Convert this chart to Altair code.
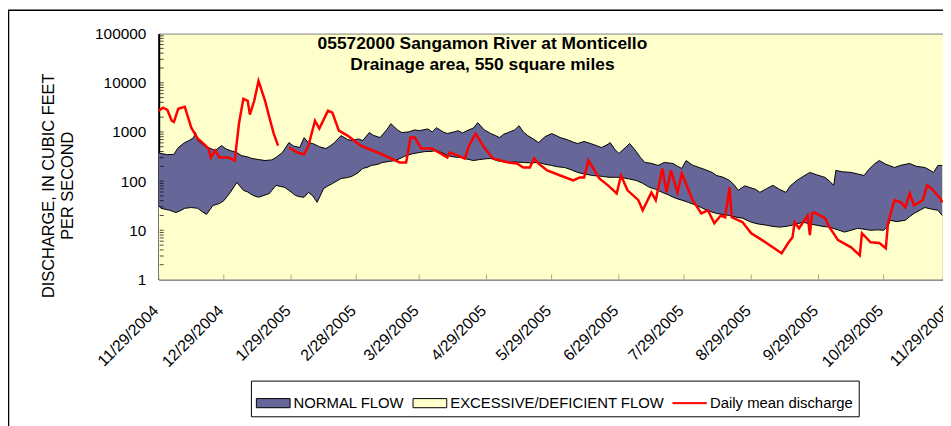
import altair as alt
import pandas as pd

START = "2004-11-29"

# ---- data (day offset from 11/29/2004, discharge cfs) ----
upper_day = [0, 1, 4, 7, 9, 12, 14, 16, 17, 18, 21, 24, 26, 29, 31, 33, 36, 38, 41, 43, 46, 49, 52, 54, 57,
             60, 62, 65, 67, 69, 71, 74, 77, 79, 81, 84, 87, 89, 92, 94, 97, 99, 102, 105, 107, 110, 112,
             115, 118, 120, 124, 126, 128, 131, 133, 136, 138, 140, 142, 145, 147, 150, 153, 155, 157, 159,
             161, 164, 166, 168, 170, 173, 175, 178, 181, 183, 185, 188, 191, 193, 196, 199, 202, 204, 207,
             208, 210, 212, 215, 217, 220, 222, 224, 227, 230, 233, 237, 239, 241, 243, 246, 249, 252, 255,
             257, 260, 263, 265, 267, 270, 272, 275, 277, 280, 283, 286, 289, 291, 294, 297, 300, 303, 307,
             309, 311, 312, 315, 319, 322, 325, 327, 330, 332, 335, 339, 342, 346, 349, 353, 355, 357, 359, 361]
upper_val = [380, 364, 345, 350, 480, 607, 667, 760, 968, 667, 528, 459, 418, 528, 450, 418, 380, 331, 310, 288,
             275, 262, 270, 302, 381, 607, 520, 481, 767, 600, 580, 500, 459, 520, 607, 842, 700, 667, 720, 667,
             968, 850, 767, 1100, 1470, 1100, 968, 1000, 1100, 1060, 1150, 1000, 1220, 1000, 925, 1000, 1060,
             950, 1060, 1200, 1540, 1100, 925, 850, 767, 900, 968, 1100, 1340, 1000, 842, 700, 607, 800, 925,
             850, 767, 700, 620, 580, 640, 580, 520, 481, 560, 607, 450, 364, 480, 580, 400, 300, 239, 230, 208,
             240, 228, 200, 181, 262, 210, 189, 170, 150, 130, 120, 103, 85, 65, 80, 75, 68, 59, 70, 82, 68, 59,
             80, 103, 125, 150, 135, 119, 100, 82, 165, 155, 150, 140, 130, 170, 228, 262, 220, 189, 210, 228,
             200, 189, 170, 150, 208, 208]

lower_day = [0, 1, 5, 8, 10, 12, 15, 18, 20, 22, 25, 28, 30, 33, 36, 39, 41, 42, 44, 46, 49, 51, 54, 56, 58,
             61, 63, 65, 67, 69, 71, 73, 76, 78, 80, 82, 84, 87, 89, 92, 94, 96, 98, 101, 103, 106, 109, 112,
             114, 117, 120, 123, 125, 128, 131, 133, 136, 139, 142, 145, 148, 151, 153, 156, 158, 161, 164,
             168, 171, 175, 178, 181, 184, 187, 190, 193, 196, 200, 204, 208, 210, 213, 217, 220, 223, 226,
             229, 232, 235, 238, 241, 244, 247, 250, 253, 257, 260, 263, 266, 269, 271, 273, 276, 280, 283,
             286, 289, 292, 294, 297, 300, 303, 306, 309, 312, 316, 319, 322, 325, 328, 331, 334, 336, 337,
             340, 344, 346, 348, 351, 353, 356, 359, 361]
lower_val = [32, 28, 25.5, 23, 25, 28, 29, 28, 24, 21, 32, 35, 40, 59, 94, 65, 60, 56, 50, 47, 52, 56, 82, 78,
             75, 60, 51, 48, 47, 59, 50, 37, 71, 80, 89, 100, 113, 118, 125, 150, 181, 190, 208, 220, 239, 250,
             262, 300, 331, 360, 381, 400, 400, 418, 370, 331, 310, 302, 280, 262, 275, 285, 288, 260, 250,
             239, 245, 239, 235, 239, 220, 208, 195, 189, 170, 150, 140, 130, 125, 119, 120, 119, 110, 103,
             90, 75, 68, 59, 52, 45, 41, 37, 33, 29, 25, 22, 21, 20, 18.5, 17.6, 16, 14.6, 13.5, 12.7, 12,
             11.6, 12, 12.7, 13.5, 14.6, 13.5, 12.7, 12, 11.6, 10.5, 9.2, 10, 11, 10.5, 10, 10.2, 10, 12, 16,
             15, 16, 19, 22, 26, 29, 27, 25.5, 20]

flow_day = [0, 2, 4, 6, 7, 9, 12, 15, 18, 21, 23, 24, 26, 28, 32, 35, 37, 39, 41, 42, 44, 46, 49, 51, 53, 55,
            60, 64, 67, 69, 72, 74, 78, 80, 83, 87, 93, 102, 111, 114, 116, 118, 121, 126, 133, 134, 138, 141,
            143, 146, 150, 154, 161, 165, 168, 171, 173, 175, 179, 185, 191, 194, 196, 198, 203, 207, 211, 213,
            216, 221, 223, 227, 229, 232, 234, 236, 239, 241, 246, 250, 253, 256, 259, 261, 263, 264, 269, 273,
            278, 287, 290, 292, 293, 295, 299, 300, 301, 302, 307, 309, 313, 319, 323, 324, 328, 332, 335, 336,
            339, 342, 344, 346, 348, 352, 354, 356, 360, 361]
flow_val = [2700, 3100, 2800, 1690, 1600, 2960, 3250, 1220, 732, 560, 459, 302, 418, 302, 302, 262, 1500, 4720,
            4300, 2250, 4300, 10900, 4300, 1950, 925, 528,
            481, 381, 350, 528, 1690, 1170, 2700, 2460, 1060, 842, 528, 364, 239, 239, 767, 767, 459, 459, 302,
            381, 331, 288, 528, 925, 481, 288, 239, 228, 189, 189, 288, 228, 165, 130, 103, 119, 119, 262, 113,
            82, 56, 130, 65, 41, 25.5, 59, 41, 181, 59, 165, 59, 143, 41, 22, 25.5, 13.9, 20, 18.4, 75, 18.4,
            14.6, 8.7, 6.3, 3.4, 5.5, 7.2, 14.6, 11, 20, 8.0, 22, 23, 17.6, 11.6, 6.3, 4.5, 3.1, 8.7, 5.7, 5.5,
            4.3, 13.9, 41, 37, 29, 56, 32, 41, 82, 71, 45, 37]
flow_seg = [0] * 26 + [1] * (len(flow_day) - 26)

month_ticks = [(2004, 11, 29), (2004, 12, 29), (2005, 1, 29), (2005, 2, 28), (2005, 3, 29), (2005, 4, 29),
               (2005, 5, 29), (2005, 6, 29), (2005, 7, 29), (2005, 8, 29), (2005, 9, 29), (2005, 10, 29),
               (2005, 11, 29)]
y_ticks = [1, 10, 100, 1000, 10000, 100000]
minor_ticks = [m * 10 ** k for k in range(5) for m in range(2, 10)]

title_lines = ["05572000 Sangamon River at Monticello", "Drainage area, 550 square miles"]
y_title = ["DISCHARGE, IN CUBIC FEET", "\u00a0" * 13 + "PER SECOND"]
legend_items = ["NORMAL FLOW", "EXCESSIVE/DEFICIENT FLOW", "Daily mean discharge"]
legend_fill = ["#666699", "#FFFFCC", "#FF0000"]
legend_stroke = ["#000000", "#000000", "#FF0000"]
RECT = "M-1,-0.27H1V0.27H-1Z"
LINE = "M-1,-0.03H1V0.03H-1Z"
legend_shapes = [RECT, RECT, LINE]

FONT = "Liberation Sans"
W, H = 799, 248

start = pd.Timestamp(START)


def frame(days, vals, **extra):
    d = pd.DataFrame({"date": start + pd.to_timedelta(days, unit="D"), "value": vals})
    for k, v in extra.items():
        d[k] = v
    return d


upper_df = frame(upper_day, upper_val)
lower_df = frame(lower_day, lower_val)
flow_df = frame(flow_day, flow_val, seg=flow_seg)
month_df = pd.DataFrame({"date": [pd.Timestamp(year=y, month=m, day=d) for y, m, d in month_ticks]})
minor_df = pd.DataFrame({"value": minor_ticks + y_ticks[1:-1]})
legend_df = pd.DataFrame({"item": legend_items})
one_df = pd.DataFrame({"k": [0]})

x_dom = [alt.DateTime(year=2004, month=11, date=29), alt.DateTime(year=2005, month=11, date=29)]
x_scale = alt.Scale(domain=x_dom)
y_scale = alt.Scale(type="log", domain=[1, 100000], nice=False)

x_axis = alt.Axis(
    values=[alt.DateTime(year=y, month=m, date=d) for y, m, d in month_ticks],
    format="%-m/%-d/%Y", labelAngle=-45, labelAlign="right", labelBaseline="top",
    labelFont=FONT, labelFontSize=16, labelColor="black", labelPadding=23, labelOffset=-9,
    labelFlush=False, labelOverlap=False, labelBound=False, ticks=False, grid=False,
    domainColor="#808080", domainWidth=1.5, title=None)
y_axis = alt.Axis(
    values=y_ticks, format="d", labelFont=FONT, labelFontSize=15.5, labelColor="black", labelPadding=13,
    labelFlush=False, ticks=False, grid=False, domainColor="black", domainWidth=2,
    title=y_title, titleFont=FONT, titleFontSize=16.5, titleFontWeight="normal", titleColor="black",
    titleLineHeight=19, titleX=-111, titleY=153, titleBaseline="middle", titleAlign="center")

X = alt.X("date:T", scale=x_scale, axis=x_axis)
Y = alt.Y("value:Q", scale=y_scale, axis=y_axis, stack=None)

normal = alt.Chart(upper_df).mark_area(color="#666699").encode(x=X, y=Y, y2=alt.value(H))
cover = alt.Chart(lower_df).mark_area(color="#FFFFCC").encode(x=X, y=Y, y2=alt.value(H))
up_line = alt.Chart(upper_df).mark_line(color="black", strokeWidth=1).encode(x=X, y=Y)
lo_line = alt.Chart(lower_df).mark_line(color="black", strokeWidth=1).encode(x=X, y=Y)
flow = alt.Chart(flow_df).mark_line(color="#FF0000", strokeWidth=2.5).encode(x=X, y=Y, detail="seg:N")

minor = alt.Chart(minor_df).mark_tick(color="black", thickness=1, size=4).encode(y=Y, x=alt.value(3))
mticks = alt.Chart(month_df).mark_tick(color="#808080", thickness=1, size=5).encode(x=X, y=alt.value(H - 2.5))

title = alt.Chart(one_df).mark_text(
    align="center", baseline="top", font=FONT, fontSize=17.5, fontWeight="bold", lineHeight=21, color="black"
).encode(x=alt.value(326.5), y=alt.value(2), text=alt.value(title_lines))

border = alt.Chart(one_df).mark_rect(fill="transparent", stroke="black", strokeWidth=1.5).encode(
    x=alt.value(-151.5), x2=alt.value(W + 50), y=alt.value(-23.5), y2=alt.value(H + 300))

leg = alt.Legend(orient="none", legendX=93, legendY=350, direction="horizontal", title=None,
                 labelFont=FONT, labelFontSize=15, labelColor="black", labelLimit=400, labelOffset=3,
                 symbolSize=1156, symbolStrokeWidth=1, columnPadding=6, padding=5,
                 strokeColor="black", fillColor="white")
legend_layer = alt.Chart(legend_df).mark_point(filled=True, opacity=1, size=1156, clip=True).encode(
    x=alt.value(-3000), y=alt.value(-3000),
    fill=alt.Fill("item:N", scale=alt.Scale(domain=legend_items, range=legend_fill), legend=leg),
    stroke=alt.Stroke("item:N", scale=alt.Scale(domain=legend_items, range=legend_stroke), legend=leg),
    shape=alt.Shape("item:N", scale=alt.Scale(domain=legend_items, range=legend_shapes), legend=leg),
)

chart = alt.layer(normal, cover, up_line, lo_line, minor, mticks, flow, title, border, legend_layer).properties(
    width=W, height=H, autosize=alt.AutoSizeParams(type="none"),
    padding={"left": 152, "top": 24, "right": -8, "bottom": 146},
).configure_view(fill="#FFFFCC", stroke="#808080", strokeWidth=1)

chart.save("out.html", embed_options={"renderer": "svg", "actions": False})
